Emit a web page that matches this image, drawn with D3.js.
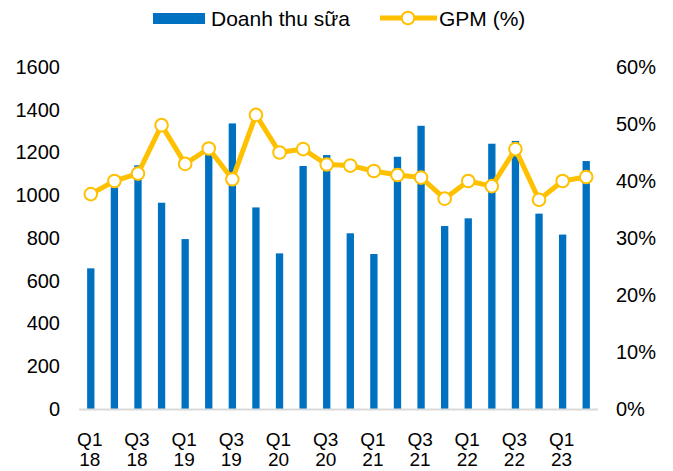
<!DOCTYPE html>
<html>
<head>
<meta charset="utf-8">
<script src="https://cdn.jsdelivr.net/npm/d3@7"></script>
<style>
  html, body { margin: 0; padding: 0; background: #fff; }
  svg { display: block; font-family: "Liberation Sans", Arial, sans-serif; }
</style>
</head>
<body>
<svg id="chart" width="673" height="471"></svg>
<script>
const categories = ["Q1 18","Q2 18","Q3 18","Q4 18","Q1 19","Q2 19","Q3 19","Q4 19",
  "Q1 20","Q2 20","Q3 20","Q4 20","Q1 21","Q2 21","Q3 21","Q4 21",
  "Q1 22","Q2 22","Q3 22","Q4 22","Q1 23","Q2 23"];
const revenue = [658,1037,1140,965,795,1191,1336,943,728,1137,1188,822,
  725,1180,1325,856,892,1241,1254,914,816,1160];
const gpm = [37.7,40.0,41.3,49.8,43.0,45.7,40.3,51.6,45.0,45.6,42.9,42.7,
  41.75,41.05,40.6,36.9,40.0,39.1,45.6,36.7,40.0,40.7];
const leftTicks = [0,200,400,600,800,1000,1200,1400,1600];
const rightTicks = [0,10,20,30,40,50,60];
const seriesNames = ["Doanh thu sữa","GPM (%)"];

(function () {
const svg = d3.select("#chart");
const pLeft = 79, pRight = 598, pTop = 67, pBottom = 409;
const fs = 20;

const x = d3.scaleBand().domain(categories).range([pLeft, pRight]).paddingInner(0.69).paddingOuter(0.345);
const yL = d3.scaleLinear().domain([0,1600]).range([pBottom, pTop]);
const yR = d3.scaleLinear().domain([0,60]).range([pBottom, pTop]);

// bars
svg.append("g").selectAll("rect").data(revenue).join("rect")
  .attr("x", (d,i) => x(categories[i]))
  .attr("width", x.bandwidth())
  .attr("y", d => yL(d))
  .attr("height", d => yL(0) - yL(d))
  .attr("fill", "#0070C0");

// baseline
svg.append("line").attr("x1", pLeft).attr("x2", pRight)
  .attr("y1", pBottom + 0.5).attr("y2", pBottom + 0.5)
  .attr("stroke", "#d9d9d9").attr("stroke-width", 2);

// left axis
const axL = svg.append("g").attr("transform", `translate(${pLeft - 19},0)`)
  .call(d3.axisLeft(yL).tickValues(leftTicks).tickSize(0).tickPadding(0).tickFormat(d3.format("d")));
axL.select(".domain").remove();
axL.selectAll("text").attr("font-size", fs).attr("font-family", "Liberation Sans, Arial, sans-serif").attr("fill", "#000");

// right axis
const axR = svg.append("g").attr("transform", `translate(616,0)`)
  .call(d3.axisRight(yR).tickValues(rightTicks).tickSize(0).tickPadding(0).tickFormat(d => d + "%"));
axR.select(".domain").remove();
axR.selectAll("text").attr("font-size", fs).attr("font-family", "Liberation Sans, Arial, sans-serif").attr("fill", "#000");

// x labels every other category (two lines each)
const xl = svg.append("g");
categories.forEach((c, i) => {
  if (i % 2 !== 0) return;
  const parts = c.split(" ");
  const cx = x(c) + x.bandwidth() / 2 - 1;
  xl.append("text").attr("x", cx).attr("y", 446).attr("text-anchor", "middle")
    .attr("font-size", 19).attr("fill", "#000").text(parts[0]);
  xl.append("text").attr("x", cx).attr("y", 466).attr("text-anchor", "middle")
    .attr("font-size", 19).attr("fill", "#000").text(parts[1]);
});

// GPM line
const line = d3.line().x((d,i) => x(categories[i]) + x.bandwidth()/2).y(d => yR(d));
svg.append("path").datum(gpm).attr("d", line)
  .attr("fill", "none").attr("stroke", "#FFC000").attr("stroke-width", 5).attr("stroke-linejoin", "round");
svg.append("g").selectAll("circle").data(gpm).join("circle")
  .attr("cx", (d,i) => x(categories[i]) + x.bandwidth()/2)
  .attr("cy", d => yR(d))
  .attr("r", 6.3)
  .attr("fill", "#fff").attr("stroke", "#FFC000").attr("stroke-width", 2);

// legend
const lg = svg.append("g");
lg.append("rect").attr("x", 153).attr("y", 13).attr("width", 52).attr("height", 11).attr("fill", "#0070C0");
lg.append("text").attr("x", 211).attr("y", 26).attr("font-size", 21).attr("fill", "#000").text(seriesNames[0]);
lg.append("line").attr("x1", 380).attr("x2", 437).attr("y1", 18).attr("y2", 18)
  .attr("stroke", "#FFC000").attr("stroke-width", 5);
lg.append("circle").attr("cx", 408).attr("cy", 18).attr("r", 6.3)
  .attr("fill", "#fff").attr("stroke", "#FFC000").attr("stroke-width", 2);
lg.append("text").attr("x", 439).attr("y", 26).attr("font-size", 21).attr("fill", "#000").text(seriesNames[1]);
})();
</script>
</body>
</html>
